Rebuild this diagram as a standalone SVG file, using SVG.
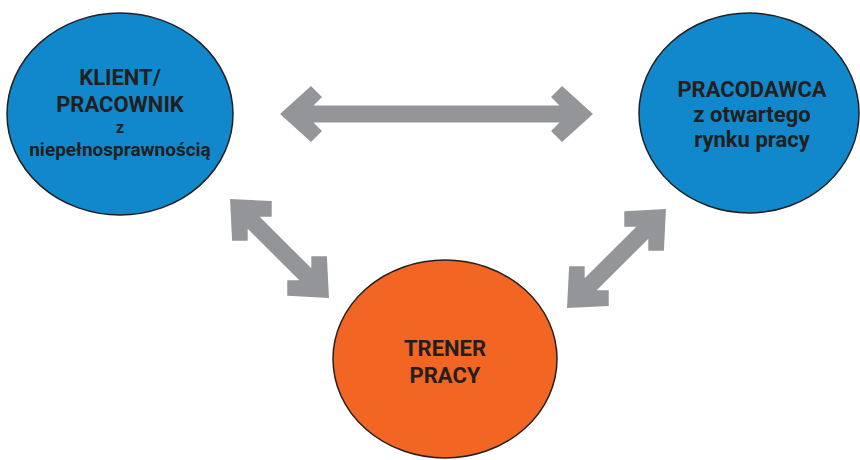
<svg xmlns="http://www.w3.org/2000/svg" xmlns:xlink="http://www.w3.org/1999/xlink" width="860" height="460" viewBox="0 0 860 460">
<style>
.node-blue{fill:#1188CB;stroke:#231F20;stroke-width:1.5}
.node-orange{fill:#F26522;stroke:#231F20;stroke-width:1.5}
.arrow{fill:#939598}
text{font-family:Roboto,"Liberation Sans",sans-serif;font-weight:bold;fill:#231F20;text-anchor:middle}
.big{font-size:22px}
.mid{font-size:19px}
.small{font-size:16px}
</style>
<rect width="860" height="460" fill="#FFFFFF"/>
<g id="connectors">
<path class="arrow" transform="translate(280,114)" d="M0,0 L31,-28 L42,-17 L33.5,-8.5 L279.5,-8.5 L271,-17 L282,-28 L313,0 L282,28 L271,17 L279.5,8.5 L33.5,8.5 L42,17 L31,28 Z"/>
<path class="arrow" transform="translate(230,199) rotate(45)" d="M0,0 L31,-28 L42,-17 L33.5,-8.5 L106.5,-8.5 L98,-17 L109,-28 L140,0 L109,28 L98,17 L106.5,8.5 L33.5,8.5 L42,17 L31,28 Z"/>
<path class="arrow" transform="translate(567,308) rotate(-45)" d="M0,0 L31,-28 L42,-17 L33.5,-8.5 L106.5,-8.5 L98,-17 L109,-28 L140,0 L109,28 L98,17 L106.5,8.5 L33.5,8.5 L42,17 L31,28 Z"/>
</g>
<g id="klient">
<ellipse class="node-blue" cx="120" cy="114" rx="113" ry="101"/>
<text class="big" x="120" y="85">KLIENT/</text>
<text class="big" x="120" y="112">PRACOWNIK</text>
<text class="small" x="120" y="133">z</text>
<text class="mid" x="120" y="156">niepełnosprawnością</text>
</g>
<g id="pracodawca">
<ellipse class="node-blue" cx="749" cy="113" rx="110" ry="100"/>
<text class="big" x="752" y="97">PRACODAWCA</text>
<text class="big" x="752" y="122">z otwartego</text>
<text class="big" x="752" y="147">rynku pracy</text>
</g>
<g id="trener">
<ellipse class="node-orange" cx="445" cy="359" rx="112" ry="99"/>
<text class="big" x="445" y="356">TRENER</text>
<text class="big" x="445" y="383">PRACY</text>
</g>
</svg>
